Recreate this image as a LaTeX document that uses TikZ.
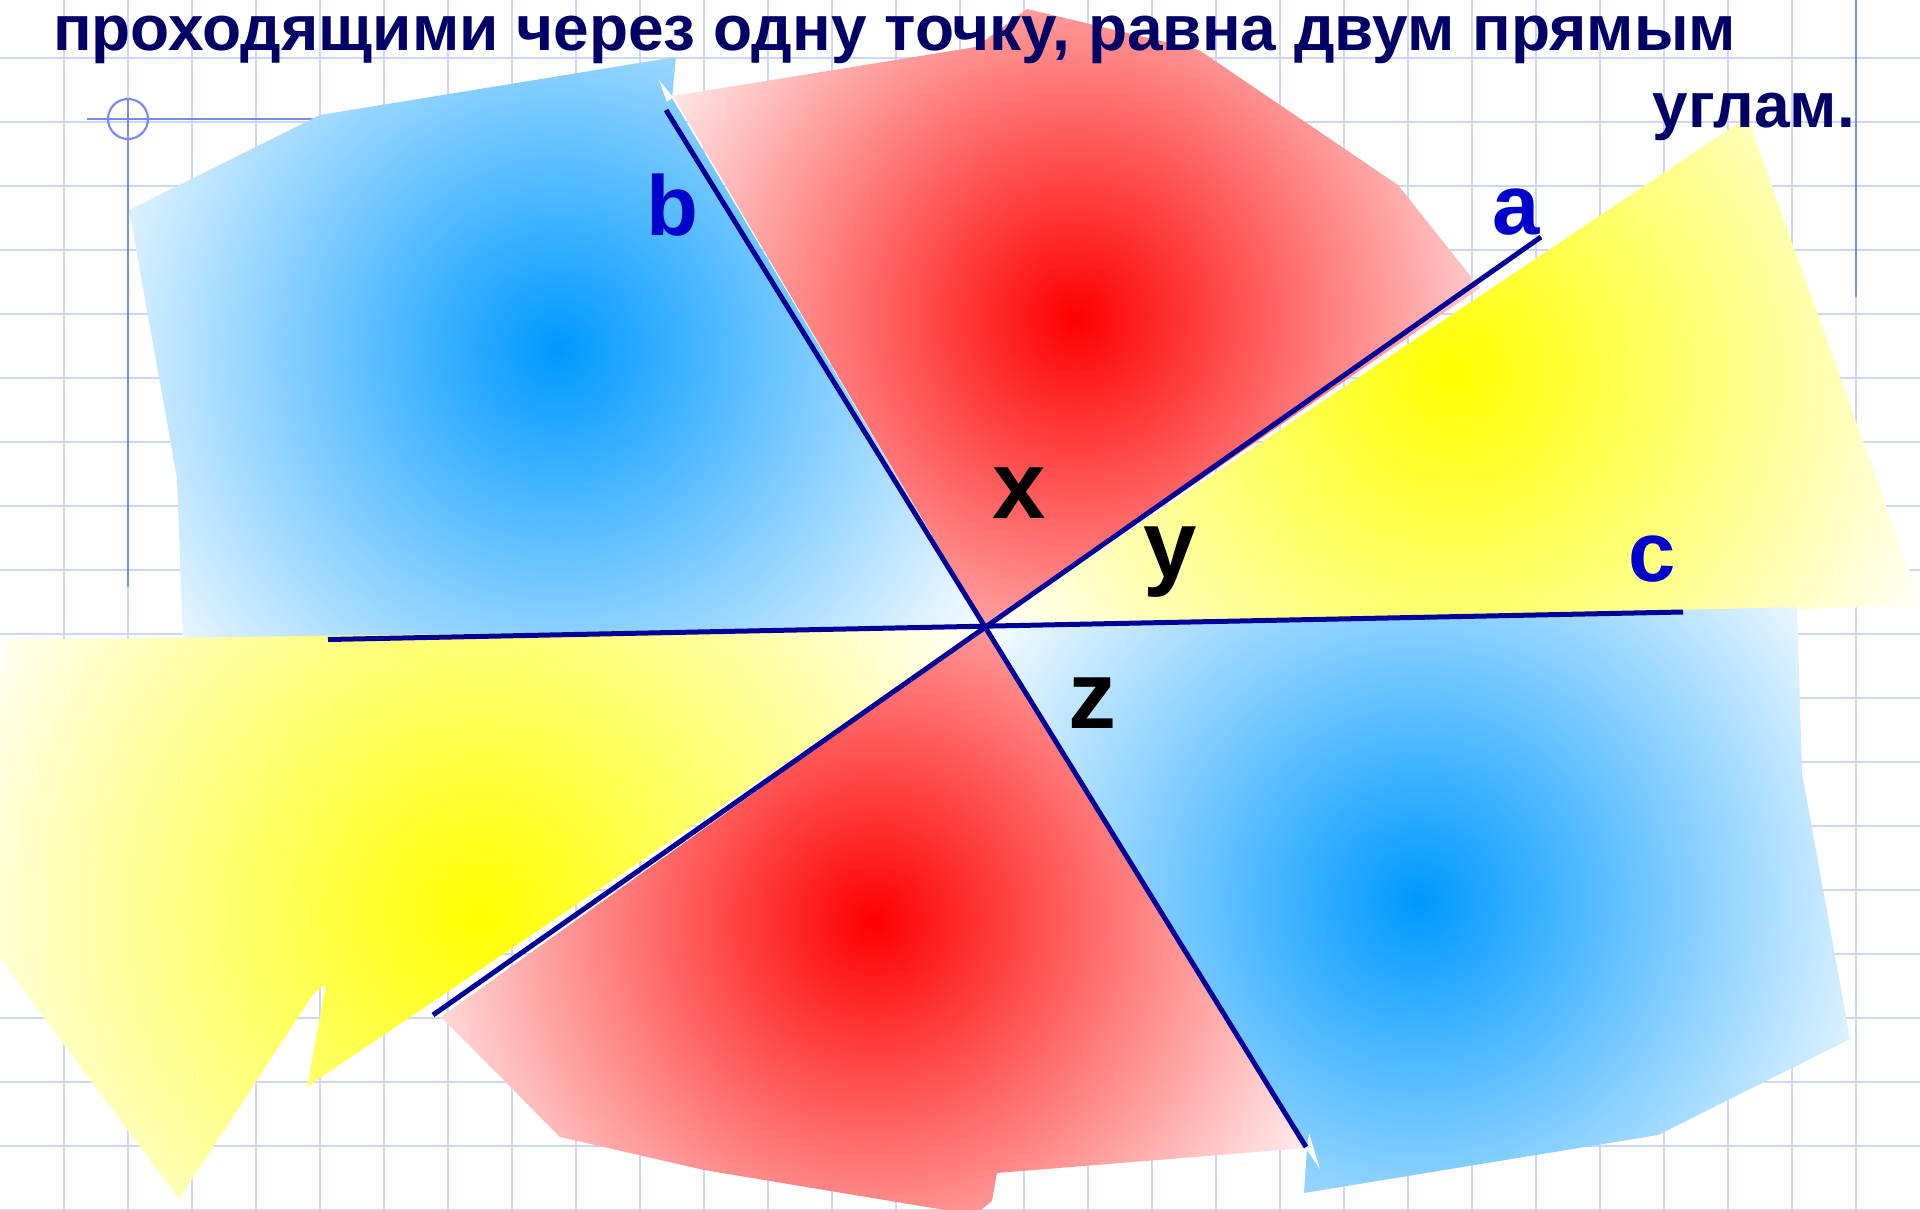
\documentclass[tikz,border=0pt]{standalone}
\usepackage{fontspec}
\setmainfont{Liberation Sans}
\definecolor{gridc}{RGB}{204,216,250}
\definecolor{marg}{RGB}{120,140,240}
\definecolor{navy}{RGB}{0,0,153}
\definecolor{titlec}{RGB}{0,0,102}
\definecolor{labc}{RGB}{0,0,204}
\definecolor{cBlue}{RGB}{0,153,255}
\definecolor{cRed}{RGB}{255,0,0}
\definecolor{cYel}{RGB}{255,255,0}
\pgfdeclareradialshading{gBU}{\pgfpoint{0pt}{0pt}}{color(0pt)=(cBlue); color(521pt)=(white)}
\pgfdeclareradialshading{gRU}{\pgfpoint{0pt}{0pt}}{color(0pt)=(cRed); color(511pt)=(white)}
\pgfdeclareradialshading{gYR}{\pgfpoint{0pt}{0pt}}{color(0pt)=(cYel); color(535pt)=(white)}
\pgfdeclareradialshading{gBL}{\pgfpoint{0pt}{0pt}}{color(0pt)=(cBlue); color(524pt)=(white)}
\pgfdeclareradialshading{gRL}{\pgfpoint{0pt}{0pt}}{color(0pt)=(cRed); color(525pt)=(white)}
\pgfdeclareradialshading{gYL}{\pgfpoint{0pt}{0pt}}{color(0pt)=(cYel); color(583pt)=(white)}
\tikzset{
  gridline/.style={draw=gridc, line width=2.2pt},
  margline/.style={draw=marg, line width=2.2pt},
  geoline/.style={draw=navy, line width=5pt},
  grad/.style={inner sep=0pt, outer sep=0pt},
  lab/.style={font=\fontsize{85}{100}\selectfont\bfseries, text=labc, anchor=base, inner sep=0pt},
  angl/.style={font=\fontsize{96}{110}\selectfont\bfseries, text=black, anchor=base, inner sep=0pt},
  titl/.style={font=\fontsize{64}{77}\selectfont\bfseries, text=titlec, inner sep=0pt}
}
\begin{document}
\begin{tikzpicture}[x=1pt,y=-1pt]
\useasboundingbox (0,0) rectangle (1920,1210);
\fill[white] (0,0) rectangle (1920,1210);
% grid
\foreach \k in {1,...,29} { \draw[gridline] (64*\k,0) -- (64*\k,1210); }
\foreach \k in {0,...,18} { \draw[gridline] (0,58+64*\k) -- (1920,58+64*\k); }
% margin marks
\draw[margline] (128,99) -- (128,587);
\draw[margline] (87,119) -- (330,119);
\draw[margline] (128,119) circle[radius=20pt];
\draw[margline] (1856,0) -- (1856,297);
\coordinate (O) at (986,627);
% blue upper-left
\begin{scope}
\clip (129,210) -- (320,115) -- (676,57) -- (672,98) -- (O) -- (183,641) -- (177,478) -- cycle;
\node[grad] (sBU) at (557.5,349) {\pgfuseshading{gBU}};
\end{scope}
% red upper
\begin{scope}
\clip (673,96) -- (976,47) -- (1027,9) -- (1199,50) -- (1398,185) -- (1480,288) -- (O) -- cycle;
\node[grad] (sRU) at (1076,318) {\pgfuseshading{gRU}};
\end{scope}
% yellow right
\begin{scope}
\clip (O) -- (1747,117) -- (1922,606) -- cycle;
\node[grad] (sYR) at (1454,372) {\pgfuseshading{gYR}};
\end{scope}
% blue lower-right
\begin{scope}
\clip (O) -- (1797,607) -- (1802,773) -- (1850,1039) -- (1658,1135) -- (1304,1193) -- (1307,1148) -- cycle;
\node[grad] (sBL) at (1418,900) {\pgfuseshading{gBL}};
\end{scope}
% red lower
\begin{scope}
\clip (O) -- (441,1017) -- (560,1137) -- (704,1170) -- (975,1215) -- (992,1201) -- (997,1173) -- (1306,1148) -- cycle;
\node[grad] (sRL) at (873.5,921) {\pgfuseshading{gRL}};
\end{scope}
% yellow lower-left
\begin{scope}
\clip (5,640) -- (-26,924) -- (179,1199) -- (314,993) -- (326,984) -- (307,1087) -- (O) -- cycle;
\node[grad] (sYL) at (480,913) {\pgfuseshading{gYL}};
\end{scope}
% small white slivers
\fill[white] (659,80) -- (673,97) -- (667,102) -- cycle;
\fill[white] (1309,1133) -- (1320,1169) -- (1307,1150) -- cycle;
% lines
\coordinate (a1) at (433,1015);
\coordinate (a2) at (1541,237);
\coordinate (b1) at (666,110);
\coordinate (b2) at (1306,1147);
\coordinate (c1) at (328,639.5);
\coordinate (c2) at (1683,612);
\draw[geoline] (a1) -- (a2);
\draw[geoline] (b1) -- (b2);
\draw[geoline] (c1) -- (c2);
% labels
\node[lab] (lb) at (672,235) {b};
\node[lab] (la) at (1516,234) {a};
\node[lab] (lc) at (1652,581) {c};
\node[angl] (lx) at (1019,518) {x};
\node[angl] (ly) at (1170,577) {y};
\node[angl] (lz) at (1092,728) {z};
% title
\node[titl, anchor=base west] (t1) at (53,50) {проходящими через одну точку, равна двум прямым};
\node[titl, anchor=base east] (t2) at (1855,127) {углам.};
\end{tikzpicture}
\end{document}
